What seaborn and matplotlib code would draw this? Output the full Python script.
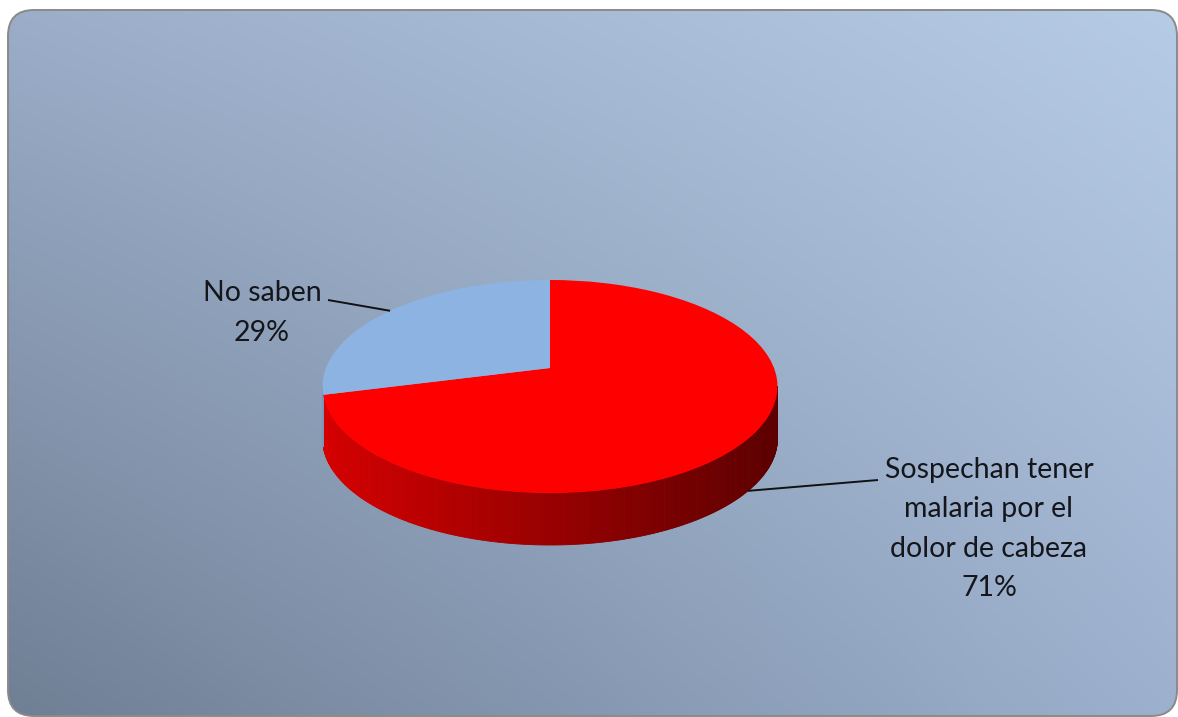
import numpy as np
import matplotlib
matplotlib.use("Agg")
import matplotlib.pyplot as plt
import seaborn as sns
from matplotlib.transforms import Transform
from matplotlib.patches import FancyBboxPatch
from matplotlib.collections import PolyCollection
from matplotlib.colors import to_rgb

# ---- data -------------------------------------------------------------
categories = ["Sospechan tener\nmalaria por el\ndolor de cabeza", "No saben"]
shares = [71, 29]
slice_colors = ["#ff0000", "#8db3e2"]

# ---- style ------------------------------------------------------------
sns.set_theme(style="white")
plt.rcParams["font.family"] = ["Lato", "DejaVu Sans"]

W, H = 1178, 717
fig = plt.figure(figsize=(W / 100, H / 100), dpi=100)
fig.patch.set_facecolor("white")
ax = fig.add_axes([0, 0, 1, 1])


class TiltTransform(Transform):
    """Projects the unit pie disk onto a tilted, perspective-viewed plane."""
    input_dims = output_dims = 2
    is_separable = False
    has_inverse = False

    def __init__(self, cx, apex_y, top_y, bottom_y, rx):
        super().__init__()
        self.cx, self.rx, self.b = cx, rx, apex_y
        self.c = (2 * apex_y - top_y - bottom_y) / (top_y - bottom_y)
        self.a = top_y * self.c + top_y - apex_y

    def transform_non_affine(self, values):
        values = np.asarray(values, dtype=float)
        u, v = values[:, 0], values[:, 1]
        w = 1 + self.c * v
        return np.column_stack([self.cx + self.rx * u / w, (self.a * v + self.b) / w])


# ---- background panel --------------------------------------------------
panel = FancyBboxPatch((8, 10), 1169, 706, boxstyle="round,pad=0,rounding_size=26",
                       facecolor="none", edgecolor="#8a8a8a", linewidth=1.4, zorder=3)
corners = {"tl": "#9badc8", "tr": "#b6cbe5", "bl": "#6f7f94", "br": "#9db1ce"}
gy, gx = np.mgrid[0:1:200j, 0:1:300j]
grad = np.zeros((200, 300, 3))
for key, wgt in (("tl", (1 - gx) * (1 - gy)), ("tr", gx * (1 - gy)),
                 ("bl", (1 - gx) * gy), ("br", gx * gy)):
    grad += wgt[..., None] * np.array(to_rgb(corners[key]))
img = ax.imshow(grad, extent=(8, 1177, 716, 10), interpolation="bilinear", zorder=1, aspect="auto")
ax.add_patch(panel)
img.set_clip_path(panel)

# ---- pie top face -------------------------------------------------------
wedges, _ = ax.pie(shares, colors=slice_colors, startangle=90, counterclock=False,
                   radius=1, wedgeprops=dict(linewidth=0))
ax.set_xlim(0, W)
ax.set_ylim(H, 0)
ax.set_aspect("auto")
ax.axis("off")

tilt = TiltTransform(cx=550, apex_y=368, top_y=280, bottom_y=493, rx=224)
for wd in wedges:
    wd.set_transform(tilt + ax.transData)
    wd.set_zorder(6)

# ---- pie side wall (only the part facing the viewer) --------------------
depth = 52
circle = np.linspace(0, 2 * np.pi, 721)
rim = tilt.transform(np.column_stack([np.cos(circle), np.sin(circle)]))
x_lo, x_hi = rim[:, 0].min(), rim[:, 0].max()

quads, quad_colors = [], []
for wd, col in zip(wedges, slice_colors):
    base = np.array(to_rgb(col))
    th = np.radians(np.linspace(wd.theta1, wd.theta2, 400))
    th = th[np.sin(th) < -tilt.c + 0.01]
    if len(th) < 2:
        continue
    top = tilt.transform(np.column_stack([np.cos(th), np.sin(th)]))
    bot = top + np.array([0, depth])
    for i in range(len(th) - 1):
        if abs(th[i + 1] - th[i]) > 0.1:
            continue
        quads.append([top[i], top[i + 1], bot[i + 1], bot[i]])
        xm = (top[i, 0] + top[i + 1, 0]) / 2
        f = np.interp(xm, [x_lo, x_hi], [0.84, 0.36])
        quad_colors.append(base * f)
side = PolyCollection(quads, facecolors=quad_colors, edgecolors=quad_colors,
                      linewidths=0.6, zorder=5)
ax.add_collection(side)

# ---- data labels with leader lines --------------------------------------
label_pos = [(989, 529), (262, 313)]
line_ends = [(878, 480), (328, 300)]
for wd, cat, val, (tx, ty), (lx, ly) in zip(wedges, categories, shares, label_pos, line_ends):
    mid = np.radians((wd.theta1 + wd.theta2) / 2)
    ax_pt = tilt.transform(np.array([[np.cos(mid), np.sin(mid)]]))[0]
    if np.sin(mid) < 0:
        ax_pt = ax_pt + np.array([0, depth])
    ax.plot([lx, ax_pt[0]], [ly, ax_pt[1]], color="#111111", linewidth=1.4,
            solid_capstyle="butt", zorder=7)
    ax.text(tx, ty, f"{cat}\n{val}%", ha="center", va="center", fontsize=20.5,
            linespacing=1.64, color="#15161c", zorder=8)

fig.savefig("out.png", dpi=100, facecolor="white")
